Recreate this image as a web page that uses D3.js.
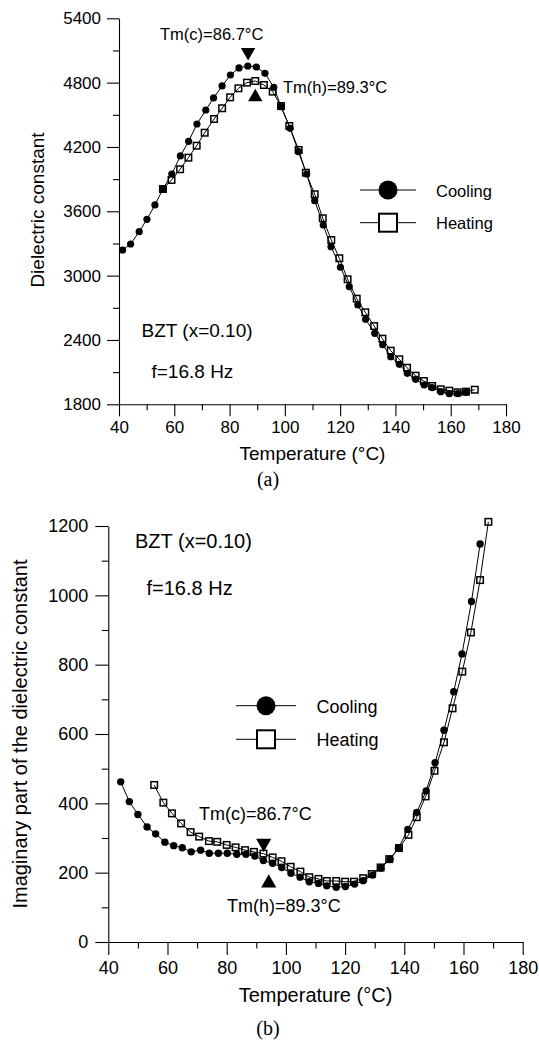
<!DOCTYPE html>
<html>
<head>
<meta charset="utf-8">
<script src="https://cdn.jsdelivr.net/npm/d3@7"></script>
<style>
  html, body { margin: 0; padding: 0; background: #fff; }
  svg text { font-family: Arial, "Liberation Sans", Helvetica, sans-serif; fill: #000; }
</style>
</head>
<body>
<svg id="fig" width="539" height="1041"></svg>
<script>
// ---- (a) real part of the dielectric constant ----
const coolTempA = [41.3,44.2,47.3,50.1,53.0,55.9,59.1,62.2,65.2,68.2,71.4,74.2,77.3,80.3,83.4,86.6,89.7,92.8,96.0,98.6,101.9,104.9,107.9,110.8,113.9,116.7,120.1,123.3,126.4,129.2,132.5,135.4,138.3,141.4,144.3,147.3,150.4,153.3,156.4,159.5,162.6,165.6];
const coolEpsA  = [3239,3295,3410,3525,3659,3808,3948,4116,4253,4414,4545,4657,4769,4871,4937,4955,4946,4887,4757,4576,4374,4156,3948,3699,3472,3270,3078,2897,2726,2593,2462,2356,2244,2173,2089,2033,1980,1955,1918,1899,1899,1912];
const heatTempA = [55.9,59.0,62.1,65.1,68.1,71.0,74.4,77.3,80.2,83.2,86.3,89.3,92.4,95.6,98.6,101.6,105.0,107.6,110.8,113.7,116.8,119.7,122.7,126.0,129.1,132.3,135.3,138.3,141.4,144.2,147.3,150.3,153.3,156.4,159.5,162.5,165.5,168.7];
const heatEpsA  = [3808,3892,3992,4100,4212,4333,4461,4561,4663,4747,4800,4815,4778,4716,4582,4396,4172,3960,3759,3535,3332,3162,2966,2785,2658,2530,2412,2300,2220,2141,2067,2017,1971,1940,1927,1912,1918,1936];
const xTicksA = [40,60,80,100,120,140,160,180];
const yTicksA = [1800,2400,3000,3600,4200,4800,5400];

// ---- (b) imaginary part ----
const coolTempB = [44.2,47.1,50.0,53.1,56.0,59.1,62.1,65.0,68.0,71.2,74.1,77.2,80.2,83.4,86.5,89.5,92.4,95.5,98.6,101.7,104.8,107.9,111.0,113.8,117.0,120.1,123.2,126.1,129.3,132.1,135.2,138.0,141.2,144.2,147.4,150.4,153.4,156.7,159.5,162.7,165.6];
const coolLossB = [462,405,368,332,312,288,278,272,260,265,256,256,256,253,253,248,235,227,215,198,187,174,169,162,158,160,167,177,193,213,239,270,325,374,436,517,611,722,831,982,1148];
const heatTempB = [55.5,58.6,61.5,64.6,67.8,70.7,74.0,76.8,80.0,83.0,86.2,89.2,92.4,95.5,98.5,101.6,104.9,107.9,111.0,113.8,117.0,120.0,123.0,126.1,129.0,132.0,134.9,138.2,141.4,144.2,147.2,150.2,153.4,156.3,159.6,162.5,165.6,168.4];
const heatLossB = [453,402,371,342,317,304,291,289,280,273,265,260,255,244,233,217,203,187,182,176,176,174,174,184,196,215,239,271,309,360,420,494,576,674,780,893,1044,1212];
const xTicksB = [40,60,80,100,120,140,160,180];
const yTicksB = [0,200,400,600,800,1000,1200];

// transition temperatures
const tmCool = 86.7, tmHeat = 89.3;
const seriesNames = ["Cooling", "Heating"];

const svg = d3.select("#fig");
const fmt = d3.format("d");

function zip(xs, ys) { return xs.map((t, i) => ({ t, v: ys[i] })); }

function panel(cfg) {
  const x = d3.scaleLinear().domain([40, 180]).range([cfg.left, cfg.right]);
  const y = d3.scaleLinear().domain(cfg.yDomain).range([cfg.bottom, cfg.top]);
  const g = svg.append("g");

  // minor ticks
  const xMinor = d3.range(40, 181, 10).filter(v => !cfg.xTicks.includes(v));
  const yMinor = d3.range(cfg.yDomain[0], cfg.yDomain[1] + 1, cfg.yMinorStep).filter(v => !cfg.yTicks.includes(v));

  g.append("g").attr("transform", `translate(0,${cfg.bottom})`)
    .call(d3.axisBottom(x).tickValues(cfg.xTicks).tickFormat(fmt).tickSize(cfg.tick).tickPadding(cfg.xPad).tickSizeOuter(0));
  g.append("g").attr("transform", `translate(0,${cfg.bottom})`)
    .call(d3.axisBottom(x).tickValues(xMinor).tickSize(cfg.tick / 2).tickFormat("").tickSizeOuter(0))
    .select(".domain").remove();
  g.append("g").attr("transform", `translate(${cfg.left},0)`)
    .call(d3.axisLeft(y).tickValues(cfg.yTicks).tickFormat(fmt).tickSize(cfg.tick).tickPadding(cfg.yPad).tickSizeOuter(0));
  g.append("g").attr("transform", `translate(${cfg.left},0)`)
    .call(d3.axisLeft(y).tickValues(yMinor).tickSize(cfg.tick / 2).tickFormat("").tickSizeOuter(0))
    .select(".domain").remove();
  g.selectAll(".domain, .tick line").attr("stroke", "#000").attr("stroke-width", 1.1);
  g.selectAll(".tick text").attr("font-size", cfg.tickFont).attr("fill", "#000")
    .attr("font-family", 'Arial, "Liberation Sans", Helvetica, sans-serif');

  // axis titles
  g.append("text").attr("x", (cfg.left + cfg.right) / 2).attr("y", cfg.xTitleY)
    .attr("text-anchor", "middle").attr("font-size", cfg.titleFont).text("Temperature (°C)");
  g.append("text").attr("transform", `translate(${cfg.yTitleX},${cfg.yTitleMid}) rotate(-90)`)
    .attr("text-anchor", "middle").attr("font-size", cfg.titleFont).text(cfg.yTitle);
  g.append("text").attr("x", 268).attr("y", cfg.capY).attr("text-anchor", "middle")
    .attr("font-size", 20).style("font-family", '"Times New Roman", "Liberation Serif", serif').text(cfg.caption);

  const line = d3.line().x(d => x(d.t)).y(d => y(d.v));
  const cool = zip(cfg.coolT, cfg.coolV), heat = zip(cfg.heatT, cfg.heatV);

  g.append("path").datum(heat).attr("d", line).attr("fill", "none").attr("stroke", "#000").attr("stroke-width", 1);
  g.append("path").datum(cool).attr("d", line).attr("fill", "none").attr("stroke", "#000").attr("stroke-width", 1);

  const s = cfg.sq;
  g.selectAll(".hs").data(heat).join("rect")
    .attr("x", d => x(d.t) - s / 2).attr("y", d => y(d.v) - s / 2)
    .attr("width", s).attr("height", s)
    .attr("fill", "none").attr("stroke", "#000").attr("stroke-width", 1.5);
  g.selectAll(".cc").data(cool).join("circle")
    .attr("cx", d => x(d.t)).attr("cy", d => y(d.v)).attr("r", cfg.r).attr("fill", "#000");

  // legend
  const L = cfg.legend;
  seriesNames.forEach((name, i) => {
    const ly = L.y[i];
    g.append("line").attr("x1", L.x0).attr("x2", L.x1).attr("y1", ly).attr("y2", ly)
      .attr("stroke", "#000").attr("stroke-width", 1);
    const cx = (L.x0 + L.x1) / 2;
    if (i === 0) {
      g.append("circle").attr("cx", cx).attr("cy", ly).attr("r", 9.5).attr("fill", "#000");
    } else {
      g.append("rect").attr("x", cx - 9).attr("y", ly - 9).attr("width", 18).attr("height", 18)
        .attr("fill", "#fff").attr("stroke", "#000").attr("stroke-width", 2);
    }
    g.append("text").attr("x", L.tx).attr("y", ly + L.dy).attr("font-size", L.font).text(name);
  });

  // sample notes
  cfg.notes.forEach(n => {
    g.append("text").attr("x", n.x).attr("y", n.y).attr("font-size", n.size).text(n.text);
  });

  // transition markers
  const tri = d3.symbol().type(d3.symbolTriangle).size(cfg.triSize);
  cfg.markers.forEach(m => {
    g.append("path").attr("d", tri())
      .attr("transform", `translate(${x(m.t)},${y(m.v)}) rotate(${m.down ? 180 : 0})`)
      .attr("fill", "#000");
  });
}

panel({
  left: 119, right: 506, top: 18.3, bottom: 404.3,
  yDomain: [1800, 5400], yMinorStep: 300,
  xTicks: xTicksA, yTicks: yTicksA,
  tick: 12, xPad: 5, yPad: 6, tickFont: 17, titleFont: 19,
  xTitleY: 460, yTitleX: 43.5, yTitleMid: 210,
  yTitle: "Dielectric constant", caption: "(a)", capY: 486,
  coolT: coolTempA, coolV: coolEpsA, heatT: heatTempA, heatV: heatEpsA,
  r: 3.6, sq: 6.5,
  legend: { x0: 360, x1: 416, y: [190, 222.7], tx: 436, dy: 6.5, font: 16.5 },
  notes: [
    { x: 160, y: 40, size: 16.5, text: `Tm(c)=${tmCool}°C` },
    { x: 283, y: 93, size: 16.5, text: `Tm(h)=${tmHeat}°C` },
    { x: 141.5, y: 336.5, size: 19, text: "BZT (x=0.10)" },
    { x: 151.5, y: 377.5, size: 19, text: "f=16.8 Hz" }
  ],
  triSize: 90,
  markers: [ { t: tmCool, v: 5085, down: true }, { t: tmHeat, v: 4665, down: false } ]
});

panel({
  left: 108.3, right: 522.7, top: 526, bottom: 942,
  yDomain: [0, 1200], yMinorStep: 100,
  xTicks: xTicksB, yTicks: yTicksB,
  tick: 13, xPad: 6, yPad: 7, tickFont: 18, titleFont: 20,
  xTitleY: 1001.5, yTitleX: 27, yTitleMid: 734,
  yTitle: "Imaginary part of the dielectric constant", caption: "(b)", capY: 1035,
  coolT: coolTempB, coolV: coolLossB, heatT: heatTempB, heatV: heatLossB,
  r: 3.7, sq: 6.5,
  legend: { x0: 236, x1: 296, y: [705.7, 739.3], tx: 316.5, dy: 7, font: 18 },
  notes: [
    { x: 199, y: 820, size: 18, text: `Tm(c)=${tmCool}°C` },
    { x: 227, y: 911.5, size: 18, text: `Tm(h)=${tmHeat}°C` },
    { x: 135, y: 548.3, size: 20, text: "BZT (x=0.10)" },
    { x: 146.5, y: 595, size: 20, text: "f=16.8 Hz" }
  ],
  triSize: 100,
  markers: [ { t: 92.5, v: 285, down: true }, { t: 94.2, v: 170, down: false } ]
});
</script>
</body>
</html>
